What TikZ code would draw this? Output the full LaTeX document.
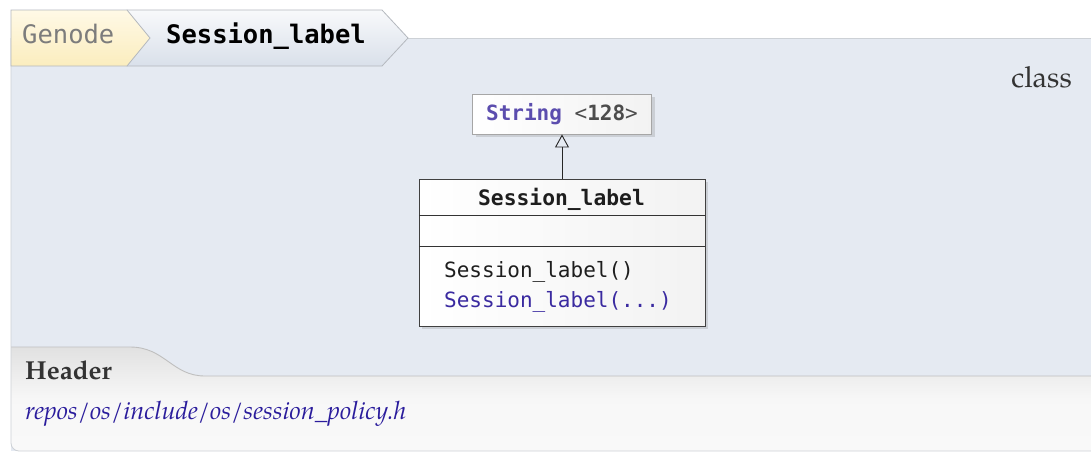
\documentclass[tikz,border=0pt]{standalone}
\usepackage{fontspec}
\setmainfont{TeX Gyre Pagella}
\setmonofont{DejaVu Sans Mono}
\usetikzlibrary{arrows.meta,shadows}
\definecolor{panelbg}{HTML}{E5EAF2}
\definecolor{panelline}{HTML}{CDD1D6}
\definecolor{tabline}{HTML}{B4B8BE}
\definecolor{yeltop}{HTML}{FFF9E6}
\definecolor{yelbot}{HTML}{FBEDBE}
\definecolor{tabtop}{HTML}{F8F9FB}
\definecolor{tabbot}{HTML}{D9E0EA}
\definecolor{purp}{HTML}{5B4DAE}
\definecolor{linkblue}{HTML}{2A1C9C}
\definecolor{methblue}{HTML}{3A2AA0}
\definecolor{darktxt}{HTML}{1E1E1E}
\definecolor{graytxt}{HTML}{7C7C7C}
\definecolor{serifgray}{HTML}{333333}
\definecolor{ftop}{HTML}{E1E1E1}
\definecolor{fbot}{HTML}{F9F9F9}
\tikzset{
  mono/.style={font=\ttfamily\fontsize{21}{24}\selectfont},
  umlbox/.style={line width=0.9pt, left color=white, right color=black!5,
    drop shadow={opacity=0.25, shadow xshift=3pt, shadow yshift=-3pt}},
  tabshape/.style={draw=tabline, line width=0.8pt},
}
\begin{document}
\begin{tikzpicture}[x=1pt,y=-1pt]
\useasboundingbox (0,0) rectangle (1091,451);
\fill[white] (0,0) rectangle (1091,451);
% main panel
\fill[panelbg] (11,38) rectangle (1091,451);
\draw[panelline, line width=0.8pt] (408,38) -- (1091,38);
% footer area
\shade[top color=ftop, bottom color=fbot, middle color=black!3]
  (11,347) -- (130,347) .. controls (165,347) and (172,376) .. (205,376) -- (1091,376)
  -- (1091,451) -- (19,451) .. controls (14.6,451) and (11,447.4) .. (11,443) -- cycle;
\draw[black!25, line width=0.9pt] (11,347) -- (130,347) .. controls (165,347) and (172,376) .. (205,376) -- (1091,376);
\draw[panelline, line width=0.8pt] (11,38) -- (11,443) .. controls (11,447.4) and (14.6,451) .. (19,451) -- (1091,451);
% breadcrumb tabs
\shade[tabshape, top color=tabtop, bottom color=tabbot]
  (127,10) -- (382,10) -- (408,38) -- (382,66) -- (127,66) -- cycle;
\shade[tabshape, top color=yeltop, bottom color=yelbot]
  (11,10) -- (127,10) -- (150,38) -- (127,66) -- (11,66) -- cycle;
\node[anchor=base west, inner sep=0pt, font=\ttfamily\fontsize{25.5}{28}\selectfont, text=graytxt] (genode) at (22,43) {Genode};
\node[anchor=base west, inner sep=0pt, font=\ttfamily\bfseries\fontsize{25.5}{28}\selectfont, text=black] (crumb) at (166,43) {Session\_label};
% class tag
\node[anchor=base east, inner sep=0pt, font=\fontsize{29}{32}\selectfont, text=serifgray] (kind) at (1072,87) {class};
% base class
\node[umlbox, draw=black!35, minimum width=179pt, minimum height=40pt, inner sep=0pt, mono] (str) at (562,114)
  {\textcolor{purp}{\bfseries String} \textcolor{black!70}{<\textbf{128}>}};
% class box
\node[umlbox, draw=black!75, minimum width=286pt, minimum height=147pt, inner sep=0pt] (cls) at (562,252.5) {};
\draw[black!80, line width=0.8pt] (419,215) -- (705,215);
\draw[black!80, line width=0.8pt] (419,246) -- (705,246);
\node[anchor=base, inner sep=0pt, font=\ttfamily\bfseries\fontsize{21.3}{24}\selectfont, text=darktxt] (title) at (561.5,205.5) {Session\_label};
\node[anchor=base west, inner sep=0pt, mono, text=darktxt] (m1) at (444,277) {Session\_label()};
\node[anchor=base west, inner sep=0pt, mono, text=methblue] (m2) at (444,307) {Session\_label(...)};
\draw[black!85, line width=0.9pt, -{Triangle[open, length=13pt, width=14pt]}] (cls.north) -- (str.south);
% footer texts
\node[anchor=base west, inner sep=0pt, font=\bfseries\fontsize{26}{29}\selectfont, text=serifgray] (hdr) at (25,379) {Header};
\node[anchor=base west, inner sep=0pt, font=\itshape\fontsize{25.2}{28}\selectfont, text=linkblue] (path) at (25,419) {repos/os/include/os/session\_policy.h};
\end{tikzpicture}
\end{document}
